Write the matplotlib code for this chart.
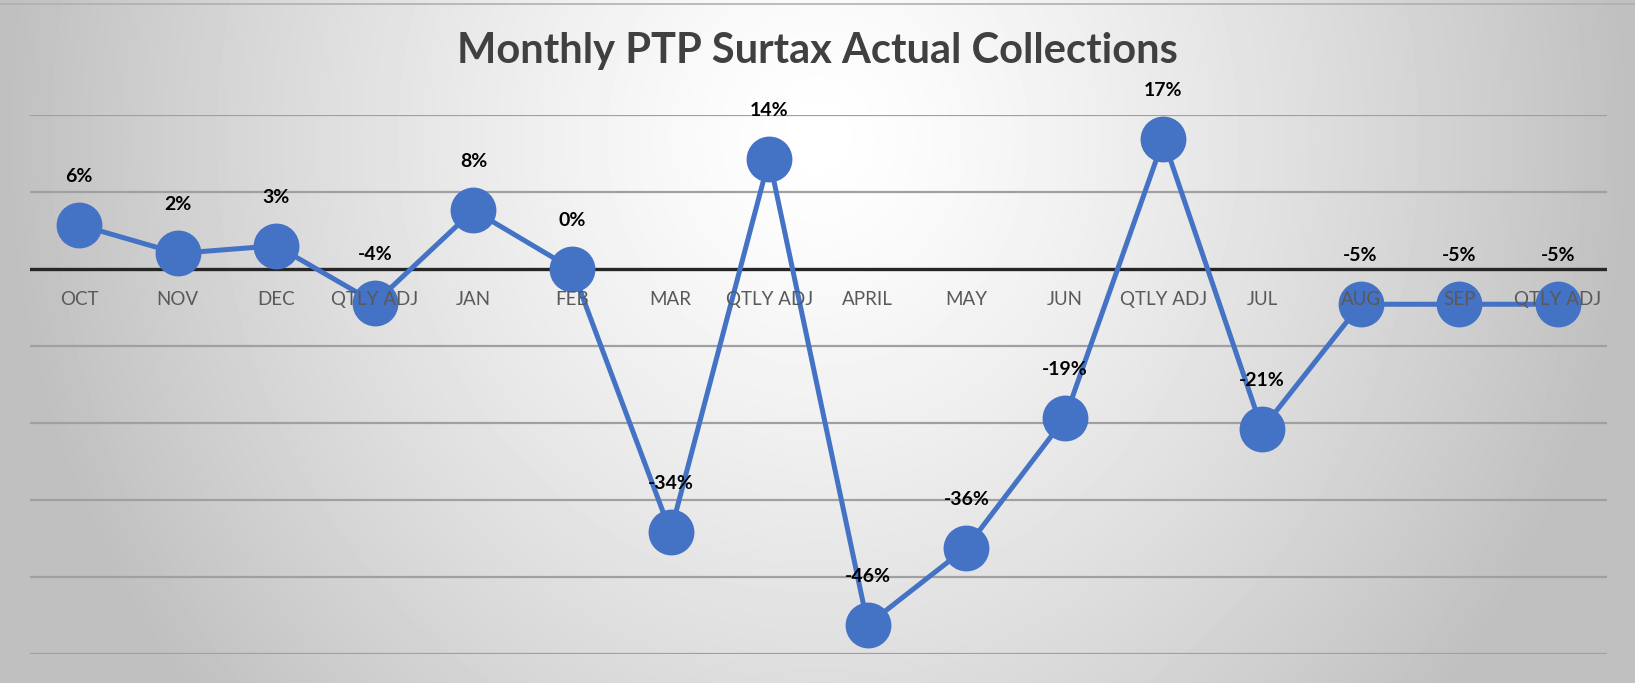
import matplotlib
matplotlib.use("Agg")
import matplotlib.pyplot as plt
import numpy as np

# datos
categorias = ["OCT", "NOV", "DEC", "QTLY ADJ", "JAN", "FEB", "MAR", "QTLY ADJ",
              "APRIL", "MAY", "JUN", "QTLY ADJ", "JUL", "AUG", "SEP", "QTLY ADJ"]
valores = [5.7, 2.0, 3.0, -4.4, 7.6, 0.0, -34.2, 14.3,
           -46.2, -36.2, -19.4, 16.8, -20.8, -4.6, -4.6, -4.6]
lineas_y = [20, 10, -10, -20, -30, -40, -50]

azul = "#4472C4"
fuentes = ["Lato", "DejaVu Sans"]

fig = plt.figure(figsize=(16.35, 6.83), dpi=100)

# fondo degradado radial
fondo = fig.add_axes([0, 0, 1, 1])
gx, gy = np.meshgrid(np.linspace(0, 1, 400), np.linspace(0, 1, 200))
d = np.sqrt(((gx - 0.5) / 0.5) ** 2 + ((gy - 0.2) / 1.3) ** 2)
brillo = 1 - 0.25 * np.clip(d, 0, 1) ** 1.3
fondo.imshow(brillo, cmap="gray", vmin=0, vmax=1, aspect="auto",
             extent=[0, 1, 1, 0], interpolation="bilinear")
fondo.axhline(0.006, color="#b0b0b0", lw=1.2)
fondo.set_xlim(0, 1)
fondo.set_ylim(1, 0)
fondo.axis("off")

ax = fig.add_axes([0.0183, 0.0425, 0.9646, 0.7895])
ax.set_facecolor("none")
x = np.arange(len(categorias))

for g in lineas_y:
    ax.axhline(g, color="#a0a0a0", lw=1.6, zorder=1)
ax.axhline(0, color="#262626", lw=2.4, zorder=2)

ax.plot(x, valores, color=azul, lw=3.6, marker="o", markersize=32,
        markerfacecolor=azul, markeredgecolor=azul, zorder=3)

for xi, v in zip(x, valores):
    ax.annotate(f"{round(v):.0f}%", (xi, v), xytext=(0, 35),
                textcoords="offset points", ha="center", va="center",
                fontsize=14, fontweight="bold", color="black",
                family=fuentes, zorder=5)
    ax.annotate(categorias[xi], (xi, 0), xytext=(0, -22),
                textcoords="offset points", ha="center", va="center",
                fontsize=13.5, color="#595959", family=fuentes, zorder=4)

ax.set_xlim(-0.5, len(categorias) - 0.5)
ax.set_ylim(-50, 20)
ax.axis("off")

fig.text(0.5, 0.925, "Monthly PTP Surtax Actual Collections", ha="center",
         va="center", fontsize=30, fontweight="bold", color="#404040",
         family=fuentes)

fig.savefig("out.png", dpi=100)
